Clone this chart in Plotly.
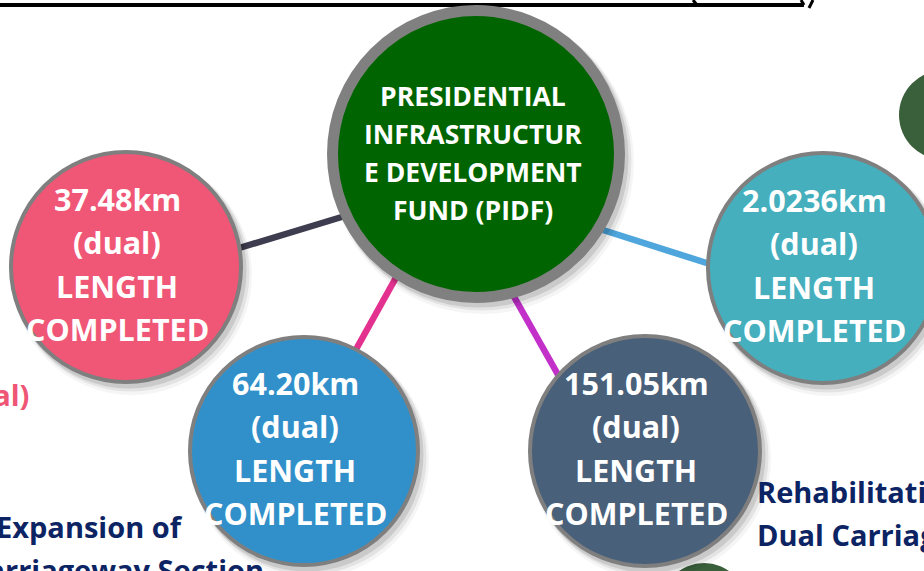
import plotly.graph_objects as go

# ---------------- data ----------------
hub_lines = ["PRESIDENTIAL", "INFRASTRUCTUR", "E DEVELOPMENT", "FUND (PIDF)"]
lengths_km = ["37.48km", "64.20km", "151.05km", "2.0236km"]
length_qualifier = "(dual)"
length_caption = ["LENGTH", "COMPLETED"]
left_fragment = ["(dual)"]
left_project_lines = ["Expansion of", "Carriageway Section"]
right_project_lines = ["Rehabilitation of", "Dual Carriageway", "No. C250 in"]

# ---------------- layout / styling (not data) ----------------
W, H = 924, 571
FONT = "Open Sans"
NODE_FS = 30.5
SIDE_FS = 29
HUB_FS = 26.5
hub = dict(cx=476, cy=154, r=149, ring=11, fill="#006400", ring_col="#808080")
nodes = [  # one per entry in lengths_km
    dict(cx=126, cy=267, r=117, fill="#F05676"),
    dict(cx=304, cy=451, r=116, fill="#3190C9"),
    dict(cx=645, cy=451, r=117, fill="#49607A"),
    dict(cx=823, cy=268, r=117, fill="#45AFBE"),
]
connectors = [  # (x0, y0, x1, y1, colour)
    (236, 249, 345, 216, "#3D3D4F"),
    (398, 274, 354, 353, "#E3318F"),
    (513, 295, 561, 380, "#C22FC9"),
    (603, 230, 716, 266, "#4EA6DD"),
]
deco_circles = [dict(cx=944, cy=115, r=45), dict(cx=704, cy=606, r=43)]

fig = go.Figure()
shapes = []
annotations = []


def circle(cx, cy, r, **kw):
    return dict(type="circle", xref="x", yref="y", x0=cx - r, x1=cx + r,
                y0=cy - r, y1=cy + r, **kw)


# top underline of (cropped) slide title
shapes.append(dict(type="line", xref="x", yref="y", x0=-5, x1=804, y0=5, y1=5,
                   line=dict(color="#000000", width=4), layer="above"))
shapes.append(dict(type="line", xref="x", yref="y", x0=693, x1=697, y0=0, y1=5,
                   line=dict(color="#000000", width=3), layer="above"))
shapes.append(dict(type="line", xref="x", yref="y", x0=801, x1=804, y0=0, y1=5,
                   line=dict(color="#000000", width=3), layer="above"))
shapes.append(dict(type="line", xref="x", yref="y", x0=813, x1=809, y0=0, y1=8,
                   line=dict(color="#000000", width=3), layer="above"))

# connectors (under circles)
for x0, y0, x1, y1, c in connectors:
    shapes.append(dict(type="line", xref="x", yref="y", x0=x0, y0=y0, x1=x1, y1=y1,
                       line=dict(color=c, width=6.5), layer="below"))

# decorative dark-green circles
for d in deco_circles:
    shapes.append(circle(d["cx"], d["cy"], d["r"], fillcolor="#3A5F3B",
                         line=dict(width=0), layer="below"))


def shadow(cx, cy, r):
    out = []
    for dx, dy, dr, a in [(6, 8, 3, 0.04), (5, 6, 1.5, 0.07), (3, 4, 0.5, 0.11)]:
        out.append(circle(cx + dx, cy + dy, r + dr, fillcolor=f"rgba(0,0,0,{a})",
                          line=dict(width=0), layer="above"))
    return out


# outer nodes
for n, km in zip(nodes, lengths_km):
    shapes.extend(shadow(n["cx"], n["cy"], n["r"]))
    shapes.append(circle(n["cx"], n["cy"], n["r"] - 2, fillcolor=n["fill"],
                         line=dict(color="#7F7F7F", width=4), layer="above"))
    lines = [km, length_qualifier] + length_caption
    y0 = n["cy"] - 68
    for i, t in enumerate(lines):
        annotations.append(dict(x=n["cx"] - 9, y=y0 + i * 43.3, xref="x", yref="y",
                                text=t, showarrow=False, xanchor="center", yanchor="middle",
                                font=dict(family=FONT, size=NODE_FS, color="white", weight="bold")))

# hub
shapes.extend(shadow(hub["cx"], hub["cy"], hub["r"]))
shapes.append(circle(hub["cx"], hub["cy"], hub["r"] - hub["ring"] / 2, fillcolor=hub["fill"],
                     line=dict(color=hub["ring_col"], width=hub["ring"]), layer="above"))
for i, t in enumerate(hub_lines):
    annotations.append(dict(x=hub["cx"] - 3, y=95.5 + i * 38.3, xref="x", yref="y",
                            text=t, showarrow=False, xanchor="center", yanchor="middle",
                            font=dict(family=FONT, size=HUB_FS, color="white", weight="bold")))

# fragments of surrounding slide text
for t in left_fragment:
    annotations.append(dict(x=31, y=394, xref="x", yref="y", text=t, showarrow=False,
                            xanchor="right", yanchor="middle",
                            font=dict(family=FONT, size=SIDE_FS, color="#EF5574", weight="bold")))
for i, t in enumerate(left_project_lines):
    annotations.append(dict(x=[185, 266][i], y=526 + i * 43, xref="x", yref="y", text=t,
                            showarrow=False, xanchor="right", yanchor="middle",
                            font=dict(family=FONT, size=SIDE_FS, color="#0C2463", weight="bold")))
for i, t in enumerate(right_project_lines):
    annotations.append(dict(x=755, y=491 + i * 43, xref="x", yref="y", text=t,
                            showarrow=False, xanchor="left", yanchor="middle",
                            font=dict(family=FONT, size=SIDE_FS, color="#0C2463", weight="bold")))

fig.update_layout(
    width=W, height=H, margin=dict(l=0, r=0, t=0, b=0),
    paper_bgcolor="white", plot_bgcolor="white",
    xaxis=dict(range=[0, W], visible=False, fixedrange=True),
    yaxis=dict(range=[H, 0], visible=False, fixedrange=True),
    shapes=shapes, annotations=annotations, showlegend=False,
)
fig.write_html("out.html", config={"displayModeBar": False},
               post_script="document.body.style.margin='0';document.body.style.overflow='hidden';")
